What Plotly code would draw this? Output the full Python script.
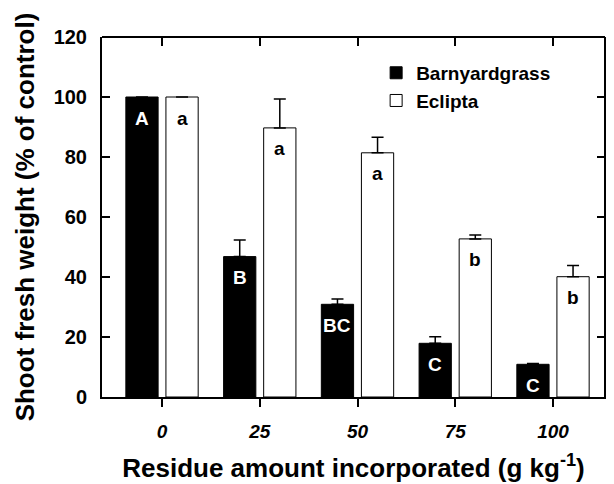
import plotly.graph_objects as go

# ---- data ----
doses = ["0", "25", "50", "75", "100"]
barnyard = [100, 46.8, 30.9, 17.9, 10.9]
barnyard_err = [0, 5.5, 1.8, 2.2, 0.3]
eclipta = [100, 89.7, 81.4, 52.7, 40.1]
eclipta_err = [0, 9.6, 5.2, 1.3, 3.7]
barnyard_letters = ["A", "B", "BC", "C", "C"]
eclipta_letters = ["a", "a", "a", "b", "b"]
y_ticks = [0, 20, 40, 60, 80, 100, 120]

FONT = "Liberation Sans, Arial, Helvetica, sans-serif"
pos = list(range(len(doses)))
W = 0.33
OFF_B = -0.37
OFF_E = 0.04

fig = go.Figure()
fig.add_trace(go.Bar(
    x=pos, y=barnyard, width=W, offset=OFF_B, name="Barnyardgrass",
    marker=dict(color="black", line=dict(color="black", width=1)),
    error_y=dict(type="data", array=barnyard_err, arrayminus=[0] * len(doses),
                 symmetric=False, color="black", thickness=1.5, width=6),
))
fig.add_trace(go.Bar(
    x=pos, y=eclipta, width=W, offset=OFF_E, name="Eclipta",
    marker=dict(color="white", line=dict(color="black", width=1)),
    error_y=dict(type="data", array=eclipta_err, arrayminus=[0] * len(doses),
                 symmetric=False, color="black", thickness=1.5, width=6),
))
# invisible helper so the top x axis (inside ticks) is drawn
fig.add_trace(go.Scatter(
    x=pos, y=eclipta, xaxis="x2", yaxis="y", mode="markers",
    marker=dict(opacity=0), showlegend=False, hoverinfo="skip",
))

annotations = []
for i in pos:
    annotations.append(dict(
        x=i + OFF_B + W / 2, y=barnyard[i], xref="x", yref="y",
        text=barnyard_letters[i], showarrow=False, yshift=-21,
        font=dict(family=FONT, size=19, color="white", weight="bold"),
    ))
    annotations.append(dict(
        x=i + OFF_E + W / 2, y=eclipta[i], xref="x", yref="y",
        text=eclipta_letters[i], showarrow=False, yshift=-21,
        font=dict(family=FONT, size=19, color="black", weight="bold"),
    ))

# plot frame: top and right borders
frame = [
    dict(type="line", xref="paper", yref="paper", x0=0, x1=1, y0=1, y1=1,
         line=dict(color="black", width=2), layer="above"),
    dict(type="line", xref="paper", yref="paper", x0=1, x1=1, y0=0, y1=1,
         line=dict(color="black", width=2), layer="above"),
]

xr = [-0.614, 4.532]
fig.update_layout(
    width=606, height=476,
    margin=dict(l=94, r=9, t=29, b=87, autoexpand=False),
    paper_bgcolor="white", plot_bgcolor="white",
    barmode="overlay",
    font=dict(family=FONT, color="black"),
    annotations=annotations,
    shapes=frame,
    legend=dict(
        x=0.545, y=0.953, xanchor="left", yanchor="top",
        bgcolor="rgba(0,0,0,0)", borderwidth=0,
        font=dict(family=FONT, size=19, color="black", weight="bold"),
        tracegroupgap=0,
    ),
    xaxis=dict(
        range=xr, tickmode="array", tickvals=pos, ticktext=doses,
        ticks="outside", ticklen=8, tickwidth=2, tickcolor="black",
        showline=True, linewidth=2, linecolor="black",
        showgrid=False, zeroline=False, automargin=False, ticklabelstandoff=8,
        tickfont=dict(family=FONT, size=19, color="black", weight="bold", style="italic"),
        title=dict(text="Residue amount incorporated (g kg<sup>-1</sup>)",
                   font=dict(family=FONT, size=26, color="black", weight="bold"),
                   standoff=18),
    ),
    xaxis2=dict(
        overlaying="x", side="top", anchor="free", position=1,
        range=xr, tickmode="array", tickvals=pos, ticktext=doses,
        ticks="inside", ticklen=8, tickwidth=2, tickcolor="black",
        showticklabels=False, showline=False,
        showgrid=False, zeroline=False, automargin=False,
    ),
    yaxis=dict(
        range=[0, 120], tickmode="array", tickvals=y_ticks,
        ticks="inside", ticklen=8, tickwidth=2, tickcolor="black",
        mirror="ticks", showline=True, linewidth=2, linecolor="black",
        showgrid=False, zeroline=False, ticklabelstandoff=9, automargin=False,
        tickfont=dict(family=FONT, size=20, color="black", weight="bold"),
        title=dict(text="Shoot fresh weight (% of control)",
                   font=dict(family=FONT, size=26, color="black", weight="bold"),
                   standoff=12),
    ),
)

fig.write_html("out.html")
